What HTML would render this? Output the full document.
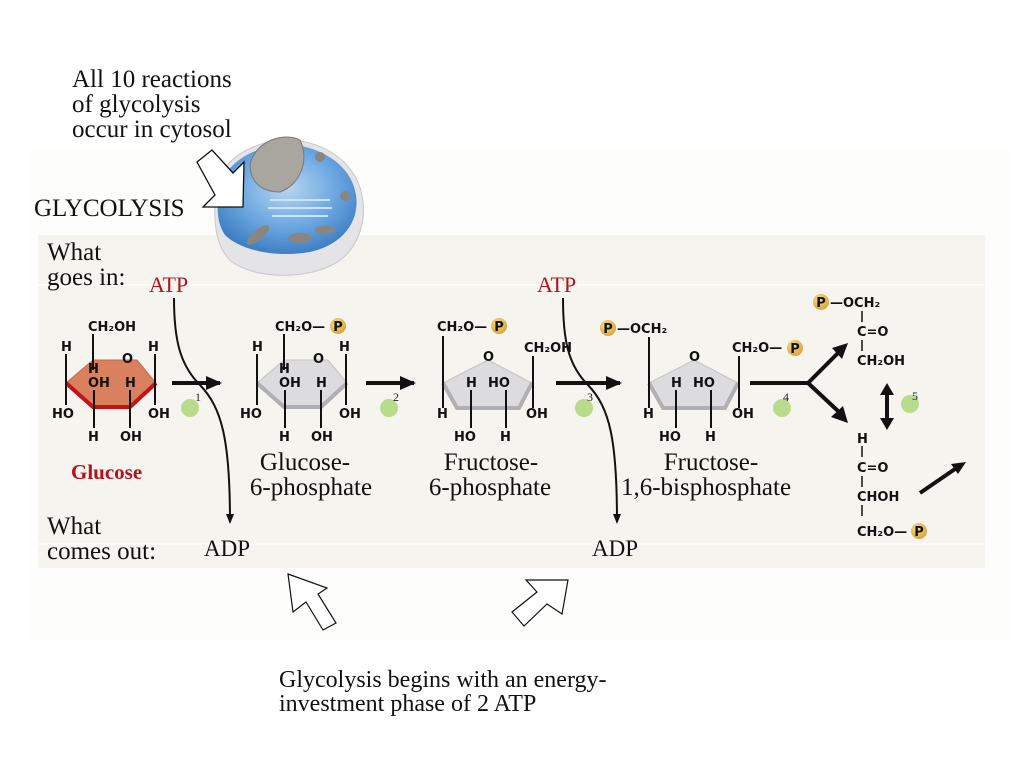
<!DOCTYPE html>
<html><head><meta charset="utf-8"><style>
html,body{margin:0;padding:0;background:#fff;}
svg{display:block;}
.s{font-family:"Liberation Serif",serif;fill:#111;}
.r{font-family:"Liberation Serif",serif;fill:#b3121c;}
.c{font-family:"DejaVu Sans","Liberation Sans",sans-serif;font-weight:bold;font-size:13px;fill:#111;}
.n{font-family:"Liberation Serif",serif;font-size:12px;fill:#222;}
</style></head><body>
<svg width="1024" height="768" viewBox="0 0 1024 768" xmlns="http://www.w3.org/2000/svg">
<defs>
<marker id="ah" markerWidth="10" markerHeight="10" refX="8" refY="5" orient="auto" markerUnits="userSpaceOnUse"><path d="M0,1 L10,5 L0,9 Z" fill="#111"/></marker>
<marker id="ah2" markerWidth="16" markerHeight="14" refX="14" refY="7" orient="auto" markerUnits="userSpaceOnUse"><path d="M0,0 L16,7 L0,14 Z" fill="#111"/></marker>
<radialGradient id="pg" cx="40%" cy="35%" r="65%"><stop offset="0" stop-color="#fbe08a"/><stop offset="1" stop-color="#d9a53a"/></radialGradient>
<radialGradient id="cell" cx="50%" cy="40%" r="60%"><stop offset="0" stop-color="#b7d6f2"/><stop offset="0.6" stop-color="#6aa6e0"/><stop offset="1" stop-color="#3f7fc4"/></radialGradient>
<g id="P"><circle r="8" fill="url(#pg)"/><text class="c" x="0" y="5" text-anchor="middle" font-size="12">P</text></g>
</defs>
<rect x="30" y="150" width="980" height="490" fill="#fdfdfc"/>
<rect x="38" y="235" width="947" height="333" fill="#f5f4ef"/>
<rect x="38" y="284" width="947" height="2" fill="#fbfbf9"/>
<rect x="38" y="543" width="947" height="2" fill="#fbfbf9"/>

<text class="s" font-size="25" x="72" y="87">All 10 reactions</text>
<text class="s" font-size="25" x="72" y="112">of glycolysis</text>
<text class="s" font-size="25" x="72" y="137">occur in cytosol</text>
<text class="s" font-size="25" x="34" y="216">GLYCOLYSIS</text>

<g>
<path d="M215,205 C210,170 240,145 280,140 C320,138 355,160 362,195 C368,225 355,255 330,266 C300,280 255,278 232,262 C218,250 214,230 215,205 Z" fill="#e4e4e6" stroke="#c8c8cc"/>
<path d="M218,200 C218,170 245,148 282,145 C318,143 352,165 356,195 C360,222 342,245 310,252 C275,258 240,250 225,235 C218,225 217,212 218,200 Z" fill="url(#cell)"/>
<path d="M250,165 C255,140 285,132 300,140 C310,160 300,185 280,192 C262,192 250,182 250,165 Z" fill="#a9a6a0" stroke="#777"/>
<ellipse cx="258" cy="235" rx="14" ry="5" fill="#8a8580" transform="rotate(-40 258 235)"/>
<ellipse cx="300" cy="238" rx="12" ry="5" fill="#8a8580"/>
<ellipse cx="325" cy="230" rx="10" ry="4" fill="#8a8580"/>
<circle cx="345" cy="196" r="5" fill="#8a8580"/>
<circle cx="320" cy="157" r="5" fill="#8a8580"/>
<path d="M270,200 L330,200 M268,208 L332,208 M272,216 L328,216" stroke="#cfe3f7" stroke-width="2"/>
</g>
<path d="M197,162 L212,150 L233,173 L244,162 L243,207 L203,207 L215,195 Z" fill="#fff" stroke="#111" stroke-width="1.3"/>

<text class="s" font-size="25" x="47" y="260">What</text>
<text class="s" font-size="25" x="47" y="285">goes in:</text>
<text class="s" font-size="25" x="47" y="534">What</text>
<text class="s" font-size="25" x="47" y="559">comes out:</text>

<!-- Glucose -->
<polygon points="66,383 93,360 137,360 156,383 130,407 93,407" fill="#d9805f" stroke="#c8684a"/>
<path d="M66,383 L93,407 L130,407 L156,383" fill="none" stroke="#c4121b" stroke-width="4"/>
<text class="c" x="88" y="331">CH₂OH</text>
<line x1="93" y1="334" x2="93" y2="370" stroke="#111" stroke-width="2"/>
<text class="c" x="61" y="351">H</text><line x1="66" y1="354" x2="66" y2="405" stroke="#111" stroke-width="2"/>
<text class="c" x="52" y="418">HO</text>
<text class="c" x="122" y="363">O</text>
<text class="c" x="148" y="351">H</text><line x1="155" y1="354" x2="155" y2="405" stroke="#111" stroke-width="2"/>
<text class="c" x="148" y="418">OH</text>
<text class="c" x="88" y="373">H</text>
<text class="c" x="88" y="387">OH</text><text class="c" x="125" y="387">H</text>
<line x1="94" y1="390" x2="94" y2="428" stroke="#111" stroke-width="2"/>
<line x1="130" y1="390" x2="130" y2="428" stroke="#111" stroke-width="2"/>
<text class="c" x="88" y="441">H</text><text class="c" x="120" y="441">OH</text>
<text class="r" font-weight="bold" font-size="21" x="71" y="479">Glucose</text>

<!-- G6P -->
<polygon points="257,383 284,360 328,360 347,383 321,407 284,407" fill="#dcdcdf" stroke="#c4c4c8"/>
<path d="M257,383 L284,407 L321,407 L347,383" fill="none" stroke="#b0b0b4" stroke-width="4"/>
<text class="c" x="275" y="331">CH₂O—</text><use href="#P" x="338" y="326"/>
<line x1="284" y1="334" x2="284" y2="370" stroke="#111" stroke-width="2"/>
<text class="c" x="252" y="351">H</text><line x1="257" y1="354" x2="257" y2="405" stroke="#111" stroke-width="2"/>
<text class="c" x="240" y="418">HO</text>
<text class="c" x="313" y="363">O</text>
<text class="c" x="339" y="351">H</text><line x1="346" y1="354" x2="346" y2="405" stroke="#111" stroke-width="2"/>
<text class="c" x="339" y="418">OH</text>
<text class="c" x="279" y="373">H</text>
<text class="c" x="279" y="387">OH</text><text class="c" x="316" y="387">H</text>
<line x1="285" y1="390" x2="285" y2="428" stroke="#111" stroke-width="2"/>
<line x1="321" y1="390" x2="321" y2="428" stroke="#111" stroke-width="2"/>
<text class="c" x="279" y="441">H</text><text class="c" x="311" y="441">OH</text>
<text class="s" font-size="25" x="305" y="470" text-anchor="middle">Glucose-</text>
<text class="s" font-size="25" x="311" y="495" text-anchor="middle">6-phosphate</text>

<!-- F6P -->
<polygon points="443,383 488,360 532,383 519,408 457,408" fill="#dcdcdf" stroke="#c4c4c8"/>
<path d="M443,383 L457,408 L519,408 L532,383" fill="none" stroke="#b0b0b4" stroke-width="4"/>
<text class="c" x="437" y="331">CH₂O—</text><use href="#P" x="499" y="326"/>
<line x1="443" y1="336" x2="443" y2="408" stroke="#111" stroke-width="2"/>
<text class="c" x="437" y="418">H</text>
<text class="c" x="483" y="361">O</text>
<text class="c" x="524" y="352">CH₂OH</text>
<line x1="533" y1="356" x2="533" y2="408" stroke="#111" stroke-width="2"/>
<text class="c" x="526" y="418">OH</text>
<text class="c" x="466" y="387">H</text><text class="c" x="488" y="387">HO</text>
<line x1="471" y1="390" x2="471" y2="428" stroke="#111" stroke-width="2"/>
<line x1="506" y1="390" x2="506" y2="428" stroke="#111" stroke-width="2"/>
<text class="c" x="454" y="441">HO</text><text class="c" x="500" y="441">H</text>
<text class="s" font-size="25" x="491" y="470" text-anchor="middle">Fructose-</text>
<text class="s" font-size="25" x="490" y="495" text-anchor="middle">6-phosphate</text>

<!-- F16BP -->
<polygon points="649,383 694,360 738,383 725,408 663,408" fill="#dcdcdf" stroke="#c4c4c8"/>
<path d="M649,383 L663,408 L725,408 L738,383" fill="none" stroke="#b0b0b4" stroke-width="4"/>
<use href="#P" x="608" y="328"/><text class="c" x="617" y="333">—OCH₂</text>
<line x1="649" y1="337" x2="649" y2="408" stroke="#111" stroke-width="2"/>
<text class="c" x="643" y="418">H</text>
<text class="c" x="689" y="361">O</text>
<text class="c" x="732" y="352">CH₂O—</text><use href="#P" x="795" y="348"/>
<line x1="739" y1="356" x2="739" y2="408" stroke="#111" stroke-width="2"/>
<text class="c" x="732" y="418">OH</text>
<text class="c" x="671" y="387">H</text><text class="c" x="693" y="387">HO</text>
<line x1="676" y1="390" x2="676" y2="428" stroke="#111" stroke-width="2"/>
<line x1="711" y1="390" x2="711" y2="428" stroke="#111" stroke-width="2"/>
<text class="c" x="659" y="441">HO</text><text class="c" x="705" y="441">H</text>
<text class="s" font-size="25" x="711" y="470" text-anchor="middle">Fructose-</text>
<text class="s" font-size="25" x="706" y="495" text-anchor="middle">1,6-bisphosphate</text>

<!-- DHAP -->
<use href="#P" x="821" y="302"/><text class="c" x="830" y="307">—OCH₂</text>
<line x1="862" y1="311" x2="862" y2="322" stroke="#111" stroke-width="1.5"/>
<text class="c" x="857" y="336">C=O</text>
<line x1="862" y1="340" x2="862" y2="351" stroke="#111" stroke-width="1.5"/>
<text class="c" x="857" y="365">CH₂OH</text>
<!-- G3P -->
<text class="c" x="857" y="443">H</text>
<line x1="862" y1="446" x2="862" y2="457" stroke="#111" stroke-width="1.5"/>
<text class="c" x="857" y="472">C=O</text>
<line x1="862" y1="476" x2="862" y2="487" stroke="#111" stroke-width="1.5"/>
<text class="c" x="857" y="501">CHOH</text>
<line x1="862" y1="505" x2="862" y2="516" stroke="#111" stroke-width="1.5"/>
<text class="c" x="857" y="536">CH₂O—</text><use href="#P" x="919" y="531"/>

<g stroke="#111" stroke-width="4" fill="none">
<line x1="172" y1="383" x2="220" y2="383" marker-end="url(#ah2)"/>
<line x1="366" y1="383" x2="414" y2="383" marker-end="url(#ah2)"/>
<line x1="556" y1="383" x2="620" y2="383" marker-end="url(#ah2)"/>
<path d="M750,383 L808,383 L838,353"/>
<path d="M808,383 L838,411"/>
<line x1="920" y1="493" x2="955" y2="469"/>
<line x1="887" y1="393" x2="887" y2="420"/>
</g>
<path d="M832,348 L848,343 L842,359 Z" fill="#111"/>
<path d="M831,417 L848,423 L843,406 Z" fill="#111"/>
<path d="M966,462 L951,464 L958,474 Z" fill="#111"/>
<path d="M880,395 L887,383 L894,395 Z M880,418 L887,430 L894,418 Z" fill="#111"/>

<g fill="#b8dc8c">
<circle cx="190" cy="408" r="9"/><circle cx="389" cy="408" r="9"/><circle cx="584" cy="408" r="9"/><circle cx="782" cy="408" r="9"/><circle cx="910" cy="404" r="9"/>
</g>
<text class="n" x="195" y="401">1</text><text class="n" x="393" y="401">2</text><text class="n" x="587" y="401">3</text><text class="n" x="783" y="401">4</text><text class="n" x="912" y="400">5</text>

<text class="r" font-size="22" x="149" y="292">ATP</text>
<text class="r" font-size="22" x="537" y="292">ATP</text>
<path d="M174,298 C174,340 180,365 200,385 C222,408 230,440 230,522" stroke="#111" stroke-width="2" fill="none" marker-end="url(#ah)"/>
<path d="M563,298 C563,340 568,365 588,385 C610,408 617,440 617,522" stroke="#111" stroke-width="2" fill="none" marker-end="url(#ah)"/>
<text class="s" font-size="23" x="204" y="556">ADP</text>
<text class="s" font-size="23" x="592" y="556">ADP</text>

<path d="M288,574 L327,588 L318,594 L336,623 L323,630 L306,602 L293,612 Z" fill="#fff" stroke="#111" stroke-width="1.2"/>
<path d="M568,580 L526,580 L537,592 L512,612 L524,626 L547,604 L562,614 Z" fill="#fff" stroke="#111" stroke-width="1.2"/>

<text class="s" font-size="24" x="279" y="687">Glycolysis begins with an energy-</text>
<text class="s" font-size="24" x="279" y="711">investment phase of 2 ATP</text>
</svg>
</body></html>
